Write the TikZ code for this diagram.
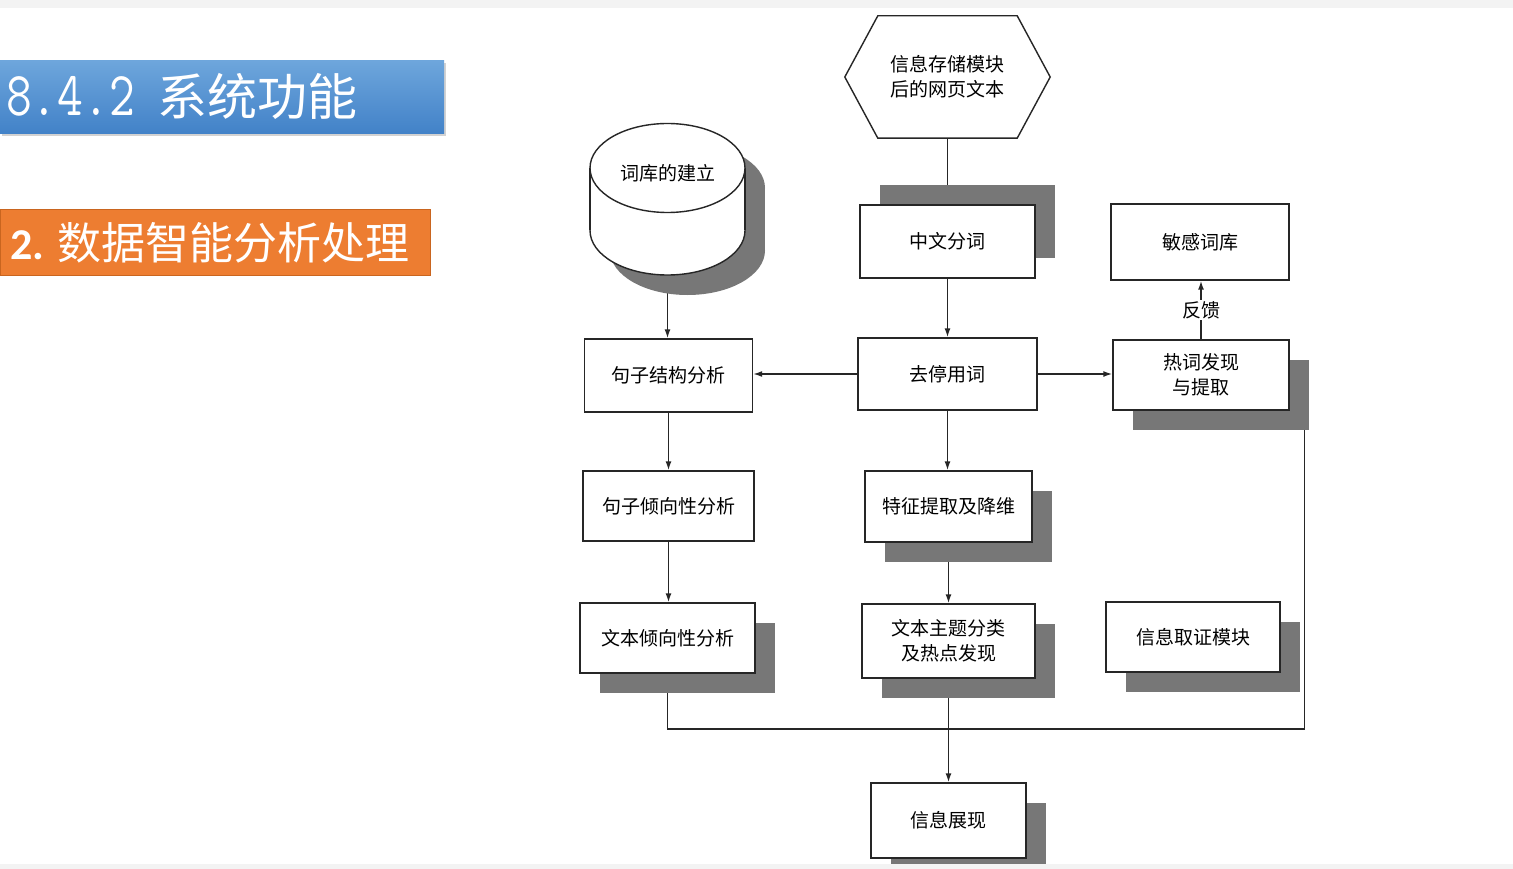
\documentclass[tikz,border=0pt]{standalone}
\usepackage{fontspec}
\newfontfamily\cjk{Noto Sans CJK SC}
\newfontfamily\calib{Carlito}
\usepackage{tikz}
\usetikzlibrary{calc,arrows.meta,shadows,backgrounds}

\definecolor{shadowgray}{HTML}{777777}
\definecolor{stripgray}{HTML}{F3F3F3}
\definecolor{bartop}{HTML}{6EA6DC}
\definecolor{barbottom}{HTML}{4282C8}
\definecolor{subfill}{HTML}{ED7D31}
\definecolor{subedge}{HTML}{C9651F}

\begin{document}
\begin{tikzpicture}[x=1pt,y=-1pt,
    proc/.style={draw=black!85, line width=1.4pt, fill=white, align=center,
                 inner sep=0pt, font=\cjk\fontsize{19}{25}\selectfont},
    dropbox/.style={drop shadow={shadow xshift=20pt, shadow yshift=-20pt,
                    fill=shadowgray, opacity=1}},
    liftbox/.style={drop shadow={shadow xshift=20pt, shadow yshift=20pt,
                    fill=shadowgray, opacity=1}},
    link/.style={line width=1.5pt, draw=black!85},
    flow/.style={link, -{Latex[length=9pt,width=6pt]}}]

    \useasboundingbox (0,0) rectangle (1513,869);
    \begin{scope}[on background layer]
        \fill[white] (0,0) rectangle (1513,869);
    \end{scope}

    % titles
    \node[anchor=north west, top color=bartop, bottom color=barbottom, draw=none,
          minimum height=73pt, text width=432pt, inner xsep=6pt, align=left,
          text=white, drop shadow={shadow xshift=2pt, shadow yshift=-3pt, opacity=0.35}]
          (title) at (0,60) {\scalebox{1}[1.25]{\ttfamily\fontsize{50}{60}\selectfont 8.4.2}\hspace{23pt}{\cjk\fontsize{50}{60}\selectfont 系统功能}};
    \node[anchor=north west, fill=subfill, draw=subedge, line width=1pt,
          minimum height=66pt, text width=410pt, inner xsep=10pt, align=left,
          text=white] (subtitle) at (0,209)
          {{\calib\bfseries\fontsize{44}{50}\selectfont 2.}\hspace{13pt}{\cjk\fontsize{44}{50}\selectfont 数据智能分析处理}};

    % source text
    \node[align=center, inner sep=0pt, minimum width=205pt, minimum height=122pt,
          font=\cjk\fontsize{19}{25}\selectfont] (src) at (947.5,77) {信息存储模块\\后的网页文本};
    \begin{scope}[on background layer]
        \draw[line width=1.4pt, draw=black!85, fill=white]
            (src.west) -- ([xshift=33pt]src.north west) -- ([xshift=-33pt]src.north east)
            -- (src.east) -- ([xshift=-33pt]src.south east) -- ([xshift=33pt]src.south west) -- cycle;
    \end{scope}

    % word library (cylinder)
    \fill[shadowgray] (687.5,250.5) ellipse [x radius=77.5, y radius=44.5];
    \fill[shadowgray] (610,188) rectangle (765,250.5);
    \fill[shadowgray] (687.5,188) ellipse [x radius=77.5, y radius=44.5];
    \draw[line width=1.4pt, draw=black!85, fill=white] (667.5,230.5) ellipse [x radius=77.5, y radius=44.5];
    \fill[white] (590,168) rectangle (745,230.5);
    \draw[line width=1.4pt, draw=black!85] (590,168) -- (590,230.5) (745,168) -- (745,230.5);
    \draw[line width=1.4pt, draw=black!85, fill=white] (667.5,168) ellipse [x radius=77.5, y radius=44.5];
    \node[font=\cjk\fontsize{19}{25}\selectfont] (lib) at (667.5,173) {词库的建立};
    \coordinate (libbase) at (667.5,275);

    % boxes
    \node[proc, liftbox, minimum width=175pt, minimum height=73pt] (seg) at (947.5,241.5) {中文分词};
    \node[proc, minimum width=179pt, minimum height=72pt] (stop) at (947.5,374) {去停用词};
    \node[proc, minimum width=178pt, minimum height=76pt] (sens) at (1200,242) {敏感词库};
    \node[proc, dropbox, minimum width=176pt, minimum height=70pt] (hot) at (1201,375) {热词发现\\与提取};
    \node[proc, minimum width=168pt, minimum height=73pt] (struct) at (668.5,375.5) {句子结构分析};
    \node[proc, minimum width=171pt, minimum height=70pt] (senttend) at (668.5,506) {句子倾向性分析};
    \node[proc, dropbox, minimum width=167pt, minimum height=71pt] (feat) at (948.5,506.5) {特征提取及降维};
    \node[proc, dropbox, minimum width=175pt, minimum height=70pt] (texttend) at (667.5,638) {文本倾向性分析};
    \node[proc, dropbox, minimum width=173pt, minimum height=74pt] (topic) at (948.5,641) {文本主题分类\\及热点发现};
    \node[proc, dropbox, minimum width=174pt, minimum height=70pt] (evid) at (1193,637) {信息取证模块};
    \node[proc, dropbox, minimum width=155pt, minimum height=75pt] (show) at (948.5,820.5) {信息展现};

    % connectors
    \begin{scope}[on background layer]
        \draw[link] (src.south) -- (src.south |- seg.north);
        \draw[flow] (seg) -- (stop);
        \draw[flow] (stop.west) -- (struct.east |- stop.west);
        \draw[flow] (stop.east) -- (hot.west |- stop.east);
        \draw[flow] (hot.north) -- node[fill=white, inner sep=1pt,
            font=\cjk\fontsize{19}{25}\selectfont] (fb) {反馈} (hot.north |- sens.south);
        \draw[flow] (libbase) -- (libbase |- struct.north);
        \draw[flow] (struct.south) -- (struct.south |- senttend.north);
        \draw[flow] (stop.south) -- (stop.south |- feat.north);
        \draw[flow] (senttend.south) -- (senttend.south |- texttend.north);
        \draw[flow] (feat) -- (topic);
        \draw[flow] (topic) -- (show);
        \coordinate (merge) at (948.5,729);
        \draw[link] (texttend.south) |- (merge);
        \draw[link] ([xshift=15pt]hot.south east) |- (merge);
    \end{scope}

    % page strips
    \fill[stripgray] (0,0) rectangle (1513,8);
    \fill[stripgray] (0,864) rectangle (1513,869);
\end{tikzpicture}
\end{document}
